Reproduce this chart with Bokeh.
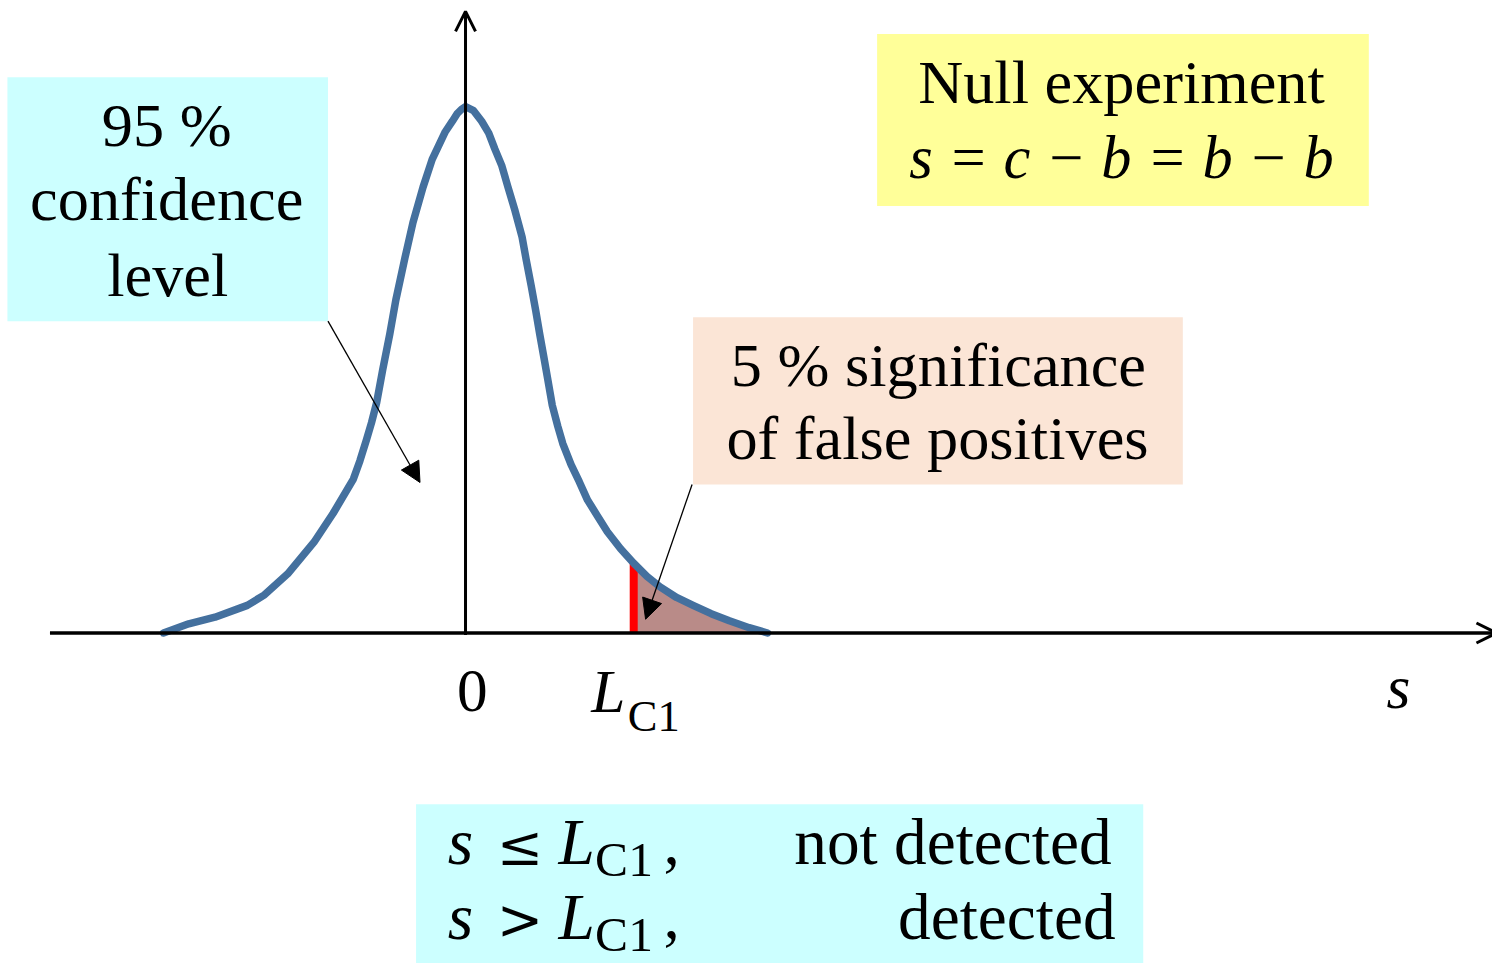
from bokeh.plotting import figure
from bokeh.models import Range1d, Label, BoxAnnotation, Arrow, OpenHead, NormalHead
from bokeh.embed import file_html
from bokeh.resources import INLINE

# ---------------- data ----------------
s_vals = [-2.99, -2.74, -2.48, -2.16, -1.99, -1.76, -1.50, -1.31, -1.11, -1.045,
          -0.98, -0.93, -0.88, -0.82, -0.75, -0.69, -0.60, -0.52, -0.42, -0.33,
          -0.20, -0.13, -0.08, -0.04, 0.0, 0.08, 0.16, 0.23, 0.29, 0.36,
          0.42, 0.49, 0.56, 0.60, 0.65, 0.695, 0.735, 0.777, 0.816, 0.859,
          0.914, 0.963, 1.045, 1.126, 1.208, 1.306, 1.404, 1.535, 1.665, 1.796,
          1.926, 2.089, 2.253, 2.432, 2.612, 2.808, 2.99]
density_vals = [0.000, 0.007, 0.012, 0.021, 0.029, 0.045, 0.069, 0.091, 0.117, 0.131,
                0.147, 0.160, 0.175, 0.200, 0.227, 0.253, 0.285, 0.312, 0.339, 0.360,
                0.381, 0.389, 0.395, 0.398, 0.400, 0.397, 0.389, 0.380, 0.368, 0.355,
                0.339, 0.321, 0.301, 0.284, 0.264, 0.245, 0.227, 0.209, 0.192, 0.173,
                0.157, 0.144, 0.128, 0.115, 0.101, 0.089, 0.077, 0.064, 0.053, 0.043,
                0.035, 0.027, 0.021, 0.0147, 0.0093, 0.004, 0.000]
L_C1 = 1.665
tick_zero = "0"

# ---------------- layout helpers (reference px -> data) ----------------
SX = 102.1      # px per s unit (reference)
SY = 1337.5     # px per density unit (reference)
def X(px):
    return (px - 470) / SX
def Y(py):
    return (643 - py) / SY

W, H = 1492, 963
F = W / 1508.0   # font scale

p = figure(width=W, height=H, output_backend="svg", toolbar_location=None,
           x_range=Range1d(X(0), X(1508)), y_range=Range1d(Y(979), Y(0)),
           min_border=0, x_axis_location=None, y_axis_location=None)
p.grid.visible = False
p.outline_line_color = None
p.background_fill_color = "white"
p.border_fill_color = "white"

SERIF = "Liberation Serif"

def box(l, r, t, b, color):
    p.add_layout(BoxAnnotation(left=X(l), right=X(r), top=Y(t), bottom=Y(b),
                               fill_color=color, fill_alpha=1.0, line_alpha=0,
                               level="underlay"))
box(7, 331, 78, 326, "#ccffff")
box(886, 1383, 34, 209, "#ffff99")
box(700, 1195, 322, 492, "#fbe5d6")
box(420, 1155, 817, 990, "#ccffff")

# shaded tail
tail_s = [s for s in s_vals if s >= L_C1]
tail_d = [d for s, d in zip(s_vals, density_vals) if s >= L_C1]
p.varea(x=tail_s, y1=[0] * len(tail_s), y2=tail_d, fill_color="#b98b88")

# red critical line
d_at_L = density_vals[s_vals.index(L_C1)]
p.segment(x0=[L_C1], y0=[0], x1=[L_C1], y1=[d_at_L], line_color="#ff0000", line_width=8)

# axes
p.add_layout(Arrow(x_start=X(50), y_start=0, x_end=X(1512), y_end=0,
                   line_width=3.5, line_color="black",
                   end=OpenHead(size=20, line_width=3, line_color="black")))
p.add_layout(Arrow(x_start=0, y_start=Y(645), x_end=0, y_end=Y(11),
                   line_width=3, line_color="black",
                   end=OpenHead(size=20, line_width=3, line_color="black")))

# curve
p.line(s_vals, density_vals, line_color="#44709e", line_width=7.5,
       line_join="round", line_cap="round")

# pointer arrows
p.add_layout(Arrow(x_start=X(331), y_start=Y(326), x_end=X(424), y_end=Y(490),
                   line_width=1.3, line_color="black",
                   end=NormalHead(size=20, fill_color="black", line_color="black", line_width=1)))
p.add_layout(Arrow(x_start=X(699), y_start=Y(492), x_end=X(652), y_end=Y(629),
                   line_width=1.3, line_color="black",
                   end=NormalHead(size=20, fill_color="black", line_color="black", line_width=1)))

def lab(text, x, y, size, align="center", style="normal", font=SERIF):
    # y is the reference baseline; compensate for renderer's baseline offset
    yb = y - 0.37 * size
    p.add_layout(Label(x=X(x), y=Y(yb), text=text, text_align=align,
                       text_baseline="alphabetic", text_font=font,
                       text_font_size=f"{size * F:.1f}px", text_font_style=style,
                       text_color="black"))

# cyan box text
lab("95 %", 168, 149, 63)
lab("confidence", 168, 225, 63)
lab("level", 169, 302, 63)

# yellow box
lab("Null experiment", 1133, 106, 63)
lab("s = c \u2212 b = b \u2212 b", 1133, 182, 61, style="italic")

# peach box
lab("5 % significance", 948, 393, 63)
lab("of false positives", 947, 468, 63)

# axis labels
lab(tick_zero, 477, 725, 62)
lab("L", 597, 725, 62, align="left", style="italic")
lab("C1", 634, 744, 45, align="left")
lab("s", 1413, 721, 62, style="italic")

# bottom box
for base, rel, right_text, rx in [(880, "\u2264", "not detected", 1123),
                                  (956, ">", "detected", 1127)]:
    lab("s", 452, base, 66, align="left", style="italic")
    lab(rel, 525, base, 56, align="center", font="DejaVu Serif")
    lab("L", 564, base, 66, align="left", style="italic")
    lab("C1", 601, base + 12, 50, align="left")
    lab(",", 670, base, 66, align="left")
    lab(right_text, rx, base, 66, align="right")

open("out.html", "w").write(file_html(p, INLINE))
